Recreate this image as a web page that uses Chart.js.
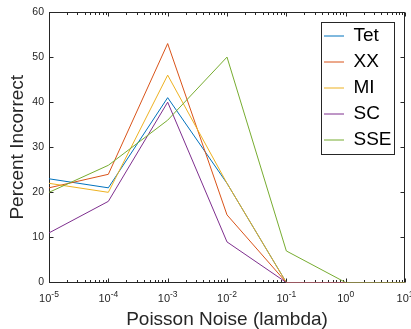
<!DOCTYPE html>
<html>
<head>
<meta charset="utf-8">
<script src="https://cdn.jsdelivr.net/npm/chart.js@4.4.1/dist/chart.umd.min.js"></script>
<style>
  html, body { margin: 0; padding: 0; background: #fff; }
  #wrap { width: 411px; height: 329px; }
</style>
</head>
<body>
<div id="wrap"><canvas id="myChart" width="411" height="329"></canvas></div>
<script>
const noise = [1e-5, 1e-4, 1e-3, 1e-2, 1e-1, 1, 10];
const xTickBase = "10";
const xTickExponents = ["-5", "-4", "-3", "-2", "-1", "0", "1"];
const seriesNames = ["Tet", "XX", "MI", "SC", "SSE"];
const tet = [23, 21, 41, 22, 0, 0, 0];
const xx = [21, 24, 53, 15, 0, 0, 0];
const mi = [22, 20, 46, 22, 0, 0, 0];
const sc = [11, 18, 40, 9, 0, 0, 0];
const sse = [20, 26, 36, 50, 7, 0, 0];

const colors = ["#0072BD", "#D95319", "#EDB120", "#7E2F8E", "#77AC30"];
const axisColor = "#262626";
const font = "'Liberation Sans', Arial, Helvetica, sans-serif";

const allSeries = [tet, xx, mi, sc, sse];

// box around the plot with inward ticks (matlab look), drawn under the lines
const boxTicks = {
  id: "boxTicks",
  beforeDatasetsDraw(chart) {
    const { ctx, chartArea: a, scales } = chart;
    const xs = scales.x, ys = scales.y;
    const L = Math.round(a.left) + 0.5, R = Math.round(a.right) - 0.5;
    const T = Math.round(a.top) + 0.5, B = a.bottom;
    ctx.save();
    ctx.strokeStyle = axisColor;
    ctx.lineWidth = 1;
    ctx.beginPath();
    ys.ticks.forEach((t) => {
      const y = Math.floor(ys.getPixelForValue(t.value)) + 0.5;
      ctx.moveTo(L, y); ctx.lineTo(L + 4, y);
      ctx.moveTo(R, y); ctx.lineTo(R - 4, y);
    });
    noise.forEach((d, i) => {
      const x = Math.round(xs.getPixelForValue(d)) + 0.5;
      ctx.moveTo(x, B); ctx.lineTo(x, B - 4);
      ctx.moveTo(x, T); ctx.lineTo(x, T + 4);
      if (i < noise.length - 1) {
        for (let m = 2; m <= 9; m++) {
          const xm = Math.round(xs.getPixelForValue(d * m)) + 0.5;
          ctx.moveTo(xm, B); ctx.lineTo(xm, B - 2.5);
          ctx.moveTo(xm, T); ctx.lineTo(xm, T + 2.5);
        }
      }
    });
    ctx.stroke();
    ctx.strokeRect(L, T, R - L, B - T);

    // x tick labels as 10 with a raised exponent
    ctx.fillStyle = axisColor;
    ctx.textBaseline = "alphabetic";
    ctx.textAlign = "left";
    noise.forEach((d, i) => {
      const x = xs.getPixelForValue(d);
      ctx.font = "11px " + font;
      const wb = ctx.measureText(xTickBase).width;
      ctx.font = "8.5px " + font;
      const we = ctx.measureText(xTickExponents[i]).width;
      const x0 = x - (wb + we) / 2;
      ctx.font = "11px " + font;
      ctx.fillText(xTickBase, x0, a.bottom + 19);
      ctx.font = "8.5px " + font;
      ctx.fillText(xTickExponents[i], x0 + wb, a.bottom + 14);
    });
    ctx.restore();
  },
  afterDraw(chart) {
    const { ctx } = chart;
    ctx.save();
    ctx.strokeStyle = axisColor;
    ctx.lineWidth = 1;
    ctx.strokeRect(321.5, 22.5, 73, 132);
    ctx.restore();
  },
  afterLayout(chart) {
    const lg = chart.legend;
    if (!lg) return;
    const w = lg.width, h = lg.height;
    lg.left = 317;
    lg.right = lg.left + w;
    lg.top = 19.5;
    lg.bottom = lg.top + h;
  },
};

const ctx = document.getElementById("myChart").getContext("2d");
const myChart = new Chart(ctx, {
  type: "line",
  data: {
    datasets: seriesNames.map((name, i) => ({
      label: name,
      data: noise.map((x, j) => ({ x: x, y: allSeries[i][j] })),
      borderColor: colors[i],
      backgroundColor: colors[i],
      borderWidth: 1,
      pointRadius: 0,
      tension: 0,
      fill: false,
      // later series sit on top, as in the original plot
      order: seriesNames.length - i,
    })),
  },
  options: {
    responsive: false,
    animation: false,
    events: [],
    layout: { padding: { top: 12, right: 6, left: 0, bottom: 0 } },
    plugins: {
      tooltip: { enabled: false },
      legend: {
        position: "chartArea",
        align: "start",
        labels: {
          usePointStyle: true,
          pointStyle: "line",
          pointStyleWidth: 20,
          padding: 7,
          color: "#000",
          font: { family: font, size: 19 },
          sort: (a, b) => a.datasetIndex - b.datasetIndex,
        },
      },
    },
    scales: {
      x: {
        type: "logarithmic",
        min: 1e-5,
        max: 10,
        grid: { display: false, drawTicks: false },
        border: { display: false },
        afterBuildTicks: (scale) => {
          scale.ticks = noise.map((v) => ({ value: v }));
        },
        afterFit: (scale) => {
          scale.height = 46.5;
          scale.paddingLeft = 0;
          scale.paddingRight = 0;
        },
        ticks: { display: false },
        title: {
          display: true,
          text: "Poisson Noise (lambda)",
          color: axisColor,
          font: { family: font, size: 19, lineHeight: 1 },
          padding: { top: 0, bottom: 0 },
        },
      },
      y: {
        min: 0,
        max: 60,
        grid: { display: false, drawTicks: false },
        border: { display: false },
        afterFit: (scale) => {
          scale.width = 49;
        },
        ticks: {
          stepSize: 10,
          padding: 5,
          color: axisColor,
          font: { family: font, size: 10.5 },
        },
        title: {
          display: true,
          text: "Percent Incorrect",
          color: axisColor,
          font: { family: font, size: 19 },
          padding: { top: 6, bottom: 0 },
        },
      },
    },
  },
  plugins: [boxTicks],
});
</script>
</body>
</html>
